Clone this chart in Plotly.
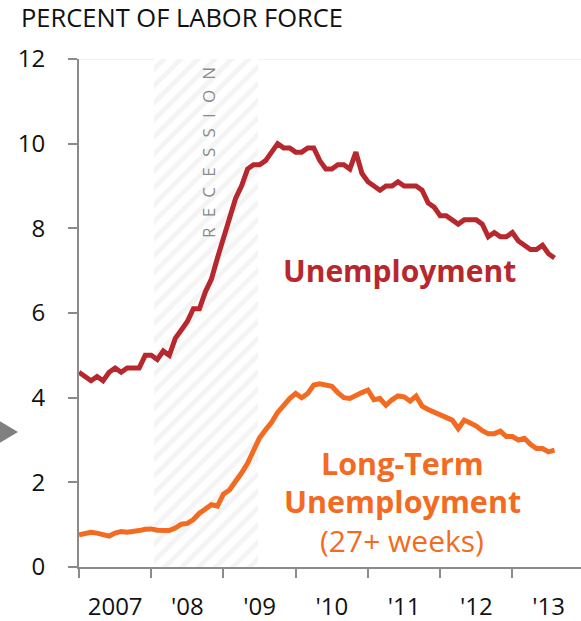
import plotly.graph_objects as go

# ---- data (monthly, Jan 2007 - Aug 2013) ----
start_year = 2007
unemployment = [
    4.6, 4.5, 4.4, 4.5, 4.4, 4.6, 4.7, 4.6, 4.7, 4.7, 4.7, 5.0,
    5.0, 4.9, 5.1, 5.0, 5.4, 5.6, 5.8, 6.1, 6.1, 6.5, 6.8, 7.3,
    7.8, 8.3, 8.7, 9.0, 9.4, 9.5, 9.5, 9.6, 9.8, 10.0, 9.9, 9.9,
    9.8, 9.8, 9.9, 9.9, 9.6, 9.4, 9.4, 9.5, 9.5, 9.4, 9.8, 9.3,
    9.1, 9.0, 8.9, 9.0, 9.0, 9.1, 9.0, 9.0, 9.0, 8.9, 8.6, 8.5,
    8.3, 8.3, 8.2, 8.1, 8.2, 8.2, 8.2, 8.1, 7.8, 7.9, 7.8, 7.8,
    7.9, 7.7, 7.6, 7.5, 7.5, 7.6, 7.4, 7.3,
]
long_term = [
    0.76, 0.80, 0.82, 0.80, 0.76, 0.73, 0.80, 0.84, 0.82, 0.83, 0.86, 0.89,
    0.90, 0.87, 0.86, 0.86, 0.92, 1.01, 1.03, 1.12, 1.27, 1.38, 1.47, 1.44,
    1.72, 1.82, 2.00, 2.22, 2.45, 2.75, 3.05, 3.24, 3.42, 3.65, 3.82, 3.98,
    4.10, 4.00, 4.10, 4.30, 4.33, 4.31, 4.27, 4.12, 4.00, 3.98, 4.06, 4.12,
    4.18, 3.95, 3.98, 3.82, 3.95, 4.04, 4.02, 3.92, 4.04, 3.80, 3.72, 3.65,
    3.60, 3.53, 3.47, 3.27, 3.47, 3.40, 3.33, 3.22, 3.15, 3.15, 3.21, 3.08,
    3.08, 3.00, 3.04, 2.90, 2.80, 2.80, 2.72, 2.76,
]
dates = [start_year + i / 12 for i in range(len(unemployment))]

recession_start = 2008.04
recession_end = 2009.48

year_tick_labels = ["2007", "'08", "'09", "'10", "'11", "'12", "'13"]
year_label_pos = [start_year + i + 0.5 for i in range(len(year_tick_labels))]
year_bounds = [start_year + i for i in range(len(year_tick_labels))]
y_ticks = [0, 2, 4, 6, 8, 10, 12]

RED = "#B7282E"
ORANGE = "#F36B21"
GRAY = "#8A8A8A"
FONT = "Open Sans"

fig = go.Figure()

# recession band (hatched)
fig.add_trace(go.Bar(
    x=[(recession_start + recession_end) / 2], y=[12], base=0,
    width=[recession_end - recession_start],
    marker=dict(color="white", line=dict(width=0),
                pattern=dict(shape="/", fgcolor="#EAEAEA", bgcolor="white",
                             size=12, solidity=0.42)),
    hoverinfo="skip", showlegend=False,
))

fig.add_trace(go.Scatter(
    x=dates, y=unemployment, mode="lines",
    line=dict(color=RED, width=5, shape="linear"),
    showlegend=False,
))
fig.add_trace(go.Scatter(
    x=dates, y=long_term, mode="lines",
    line=dict(color=ORANGE, width=5, shape="linear"),
    showlegend=False,
))

# top gridline at 12
fig.add_shape(type="line", xref="paper", x0=0, x1=1, yref="y", y0=12, y1=12,
              line=dict(color="#EEEEEE", width=1.5), layer="below")

# left gray triangle marker
fig.add_shape(type="path", xref="paper", yref="paper",
              path="M -0.165 0.2913 L -0.1215 0.2657 L -0.165 0.2402 Z",
              fillcolor="#808080", line=dict(width=0))

annos = [
    dict(text="PERCENT OF LABOR FORCE", xref="paper", yref="paper",
         x=-0.1195, y=1.082, xanchor="left", yanchor="middle",
         font=dict(size=25.5, color="#111111", family=FONT)),
    dict(text="R\u2002\u200aE\u2002\u200aC\u2002\u200aE\u2002\u200aS\u2002\u200aS\u2002\u200aI\u2002\u200aO\u2002\u200aN",
         x=2008.8, y=9.78, textangle=-90, xanchor="center", yanchor="middle",
         font=dict(size=17, color=GRAY, family=FONT)),
    dict(text="<b>Unemployment</b>", x=2011.444, y=7.0,
         font=dict(size=30, color=RED, family=FONT)),
    dict(text="<b>Long-Term</b>", x=2011.472, y=2.46,
         font=dict(size=30.5, color=ORANGE, family=FONT)),
    dict(text="<b>Unemployment</b>", x=2011.472, y=1.56,
         font=dict(size=30.5, color=ORANGE, family=FONT)),
    dict(text="(27+ weeks)", x=2011.472, y=0.62,
         font=dict(size=30, color=ORANGE, family=FONT)),
]
for a in annos:
    a.setdefault("showarrow", False)
    a.setdefault("xanchor", "center")
    a.setdefault("yanchor", "middle")
    fig.add_annotation(**a)

fig.update_layout(
    width=581, height=621,
    margin=dict(l=79, r=0, t=59, b=54, autoexpand=False),
    paper_bgcolor="white", plot_bgcolor="white",
    font=dict(family=FONT, color="#111111"),
    bargap=0,
    xaxis=dict(range=[2007, 2013.95], showgrid=False, zeroline=False,
               showline=True, linecolor=GRAY, linewidth=2, automargin=False,
               tickmode="array", tickvals=year_label_pos, ticktext=year_tick_labels,
               ticks="", tickfont=dict(size=24, color="#111111"),
               ticklabelstandoff=17,
               minor=dict(tickmode="array", tickvals=year_bounds, ticks="outside",
                          ticklen=9, tickwidth=2, tickcolor=GRAY, showgrid=False),
               fixedrange=True),
    yaxis=dict(range=[0, 12], showgrid=False, zeroline=False,
               showline=True, linecolor=GRAY, linewidth=2, automargin=False,
               tickmode="array", tickvals=y_ticks,
               ticks="outside", ticklen=9, tickwidth=2, tickcolor=GRAY,
               tickfont=dict(size=24, color="#111111"),
               ticklabelstandoff=18, fixedrange=True),
)

fig.write_html("out.html", config={"displayModeBar": False},
               post_script="document.body.style.margin='0';document.body.style.overflow='hidden';")
